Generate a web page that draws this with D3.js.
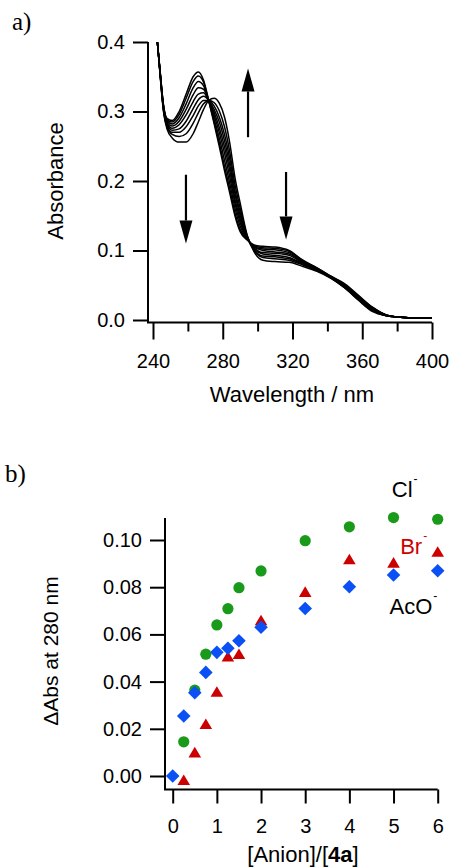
<!DOCTYPE html>
<html>
<head>
<meta charset="utf-8">
<script src="https://cdn.jsdelivr.net/npm/d3@7/dist/d3.min.js"></script>
<style>
	body { margin: 0; background: #fff; }
	svg { display: block; font-family: "Liberation Sans", Arial, sans-serif; }
</style>
</head>
<body>
<div id="svg-container"></div>
<script>

// DATA: panel a) UV-vis titration spectra
const wavelengths = [242.5, 244, 246, 248, 251, 255, 259, 263, 266, 269, 272, 275, 278, 281, 284, 287,
	290, 294, 298, 303, 310, 318, 326, 334, 342, 350, 358, 366, 374, 382, 390, 400];

const spectra = [
	[0.400, 0.360, 0.310, 0.290, 0.287, 0.300, 0.325, 0.350, 0.357, 0.345, 0.315, 0.283, 0.250, 0.215, 0.183, 0.150, 0.127, 0.115, 0.108, 0.106, 0.105, 0.100, 0.086, 0.075, 0.063, 0.052, 0.035, 0.018, 0.007, 0.004, 0.003, 0.003],
	[0.400, 0.360, 0.309, 0.289, 0.285, 0.296, 0.319, 0.343, 0.351, 0.342, 0.315, 0.286, 0.255, 0.221, 0.189, 0.154, 0.130, 0.116, 0.107, 0.104, 0.103, 0.099, 0.085, 0.075, 0.063, 0.051, 0.034, 0.018, 0.007, 0.004, 0.003, 0.003],
	[0.400, 0.359, 0.308, 0.287, 0.282, 0.291, 0.311, 0.334, 0.343, 0.337, 0.315, 0.290, 0.262, 0.230, 0.197, 0.161, 0.135, 0.116, 0.106, 0.102, 0.101, 0.097, 0.084, 0.074, 0.062, 0.050, 0.033, 0.017, 0.007, 0.004, 0.003, 0.003],
	[0.400, 0.358, 0.307, 0.285, 0.279, 0.286, 0.303, 0.324, 0.334, 0.332, 0.315, 0.295, 0.270, 0.240, 0.206, 0.168, 0.140, 0.117, 0.105, 0.100, 0.098, 0.095, 0.083, 0.073, 0.062, 0.050, 0.033, 0.016, 0.007, 0.004, 0.003, 0.003],
	[0.400, 0.358, 0.306, 0.283, 0.276, 0.281, 0.295, 0.314, 0.325, 0.327, 0.315, 0.299, 0.277, 0.249, 0.215, 0.174, 0.145, 0.118, 0.104, 0.097, 0.096, 0.093, 0.082, 0.073, 0.062, 0.049, 0.032, 0.016, 0.007, 0.004, 0.003, 0.003],
	[0.400, 0.357, 0.304, 0.282, 0.273, 0.275, 0.286, 0.304, 0.317, 0.322, 0.316, 0.303, 0.285, 0.258, 0.223, 0.181, 0.150, 0.119, 0.102, 0.095, 0.093, 0.090, 0.081, 0.072, 0.061, 0.048, 0.031, 0.015, 0.006, 0.004, 0.003, 0.003],
	[0.400, 0.357, 0.303, 0.280, 0.270, 0.270, 0.278, 0.294, 0.308, 0.316, 0.316, 0.308, 0.292, 0.267, 0.232, 0.187, 0.155, 0.120, 0.101, 0.092, 0.091, 0.088, 0.080, 0.072, 0.061, 0.047, 0.030, 0.014, 0.006, 0.004, 0.003, 0.003],
	[0.400, 0.356, 0.302, 0.278, 0.267, 0.264, 0.268, 0.283, 0.298, 0.311, 0.316, 0.313, 0.301, 0.278, 0.242, 0.195, 0.161, 0.121, 0.100, 0.090, 0.088, 0.086, 0.079, 0.071, 0.061, 0.046, 0.029, 0.013, 0.006, 0.004, 0.003, 0.003],
	[0.400, 0.355, 0.300, 0.275, 0.262, 0.256, 0.256, 0.268, 0.285, 0.303, 0.316, 0.319, 0.312, 0.292, 0.255, 0.205, 0.168, 0.122, 0.098, 0.086, 0.084, 0.083, 0.077, 0.070, 0.060, 0.046, 0.028, 0.012, 0.006, 0.004, 0.003, 0.003]
];

// arrows: wavelength, absorbance at tail, absorbance at tip
const arrowWl = [294.5, 258.9, 316.3];
const arrowFrom = [0.263, 0.209, 0.213];
const arrowTo = [0.362, 0.110, 0.116];

const ticksA_x = [240, 280, 320, 360, 400];
const minorA_x = [260, 300, 340, 380];
const ticksA_y = [0, 0.1, 0.2, 0.3, 0.4];

// DATA: panel b) titration curves
const ratioCl = [0.25, 0.5, 0.75, 1, 1.25, 1.5, 2, 3, 4, 5, 6];
const dAbsCl = [0.0145, 0.0364, 0.0516, 0.064, 0.0709, 0.0798, 0.0869, 0.0997, 0.1056, 0.1095, 0.1088];
const ratioBr = [0.25, 0.5, 0.75, 1, 1.25, 1.5, 2, 3, 4, 5, 6];
const dAbsBr = [-0.0017, 0.0100, 0.0220, 0.0357, 0.0506, 0.0517, 0.0660, 0.0780, 0.0918, 0.0904, 0.0950];
const ratioAcO = [0, 0.25, 0.5, 0.75, 1, 1.25, 1.5, 2, 3, 4, 5, 6];
const dAbsAcO = [0, 0.0254, 0.0353, 0.0439, 0.0524, 0.0541, 0.0573, 0.0630, 0.0710, 0.0802, 0.0852, 0.0870];

const ticksB_x = [0, 1, 2, 3, 4, 5, 6];
const ticksB_y = [0, 0.02, 0.04, 0.06, 0.08, 0.10];

// series labels: text, x (ratio), y (dAbs)
const seriesLabels = [
	{ name: "Cl", x: 4.96, y: 0.1182, color: "#000" },
	{ name: "Br", x: 5.15, y: 0.0940, color: "#cc0000" },
	{ name: "AcO", x: 4.91, y: 0.0686, color: "#000" }
];


function drawChart() {
	const w = 452, h = 868;
	const svg = d3.select('#svg-container').append('svg')
		.attr("width", w)
		.attr("height", h);

	const tickFont = 20;
	const titleFont = 22;

	// ---------- panel a ----------
	const xA = d3.scaleLinear().domain([240, 400]).range([153, 432]);
	const yA = d3.scaleLinear().domain([0, 0.4]).range([320, 42]);
	const axA_x = 148, axA_y = 322.5;

	svg.append("text")
		.attr("x", 12).attr("y", 30)
		.attr("font-family", "'Liberation Serif', 'Times New Roman', serif")
		.attr("font-size", 25)
		.text("a)");

	// spectra
	const line = d3.line()
		.x((d, i) => xA(wavelengths[i]))
		.y(d => yA(d))
		.curve(d3.curveMonotoneX);
	svg.append("g")
		.selectAll("path")
		.data(spectra)
		.enter()
		.append("path")
		.attr("d", line)
		.attr("fill", "none")
		.attr("stroke", "#000")
		.attr("stroke-width", 1.5);

	// arrows
	arrowWl.forEach((wl, i) => {
		const x = xA(wl);
		const y0 = yA(arrowFrom[i]);
		const y1 = yA(arrowTo[i]);
		const dir = y1 < y0 ? -1 : 1;
		const headLen = 23, headW = 6.5;
		svg.append("line")
			.attr("x1", x).attr("x2", x)
			.attr("y1", y0).attr("y2", y1 - dir * headLen)
			.attr("stroke", "#000")
			.attr("stroke-width", 2.2);
		svg.append("path")
			.attr("d", `M${x},${y1} L${x - headW},${y1 - dir * headLen} L${x + headW},${y1 - dir * headLen} Z`)
			.attr("fill", "#000");
	});

	// axes
	const yAxisA = d3.axisLeft(yA).tickValues(ticksA_y).tickSize(15).tickPadding(8)
		.tickFormat(d3.format(".1f"));
	svg.append("g")
		.attr("transform", `translate(${axA_x},0)`)
		.call(yAxisA)
		.call(g => g.select(".domain").remove());
	const xAxisA = d3.axisBottom(xA).tickValues(ticksA_x).tickSize(17).tickPadding(14)
		.tickFormat(d3.format("d"));
	svg.append("g")
		.attr("transform", `translate(0,${axA_y})`)
		.call(xAxisA)
		.call(g => g.select(".domain").remove());
	const xMinorA = d3.axisBottom(xA).tickValues(minorA_x).tickSize(9).tickFormat("");
	svg.append("g")
		.attr("transform", `translate(0,${axA_y})`)
		.call(xMinorA)
		.call(g => g.select(".domain").remove());
	svg.append("path")
		.attr("d", `M${axA_x},${yA(0.4)} L${axA_x},${axA_y} L${xA(400)},${axA_y}`)
		.attr("fill", "none").attr("stroke", "#000").attr("stroke-width", 2);

	svg.append("text")
		.attr("transform", `translate(63,${(yA(0) + yA(0.4)) / 2}) rotate(-90)`)
		.attr("text-anchor", "middle")
		.attr("font-size", titleFont)
		.text("Absorbance");
	svg.append("text")
		.attr("x", 292).attr("y", 402)
		.attr("text-anchor", "middle")
		.attr("font-size", titleFont)
		.text("Wavelength / nm");

	// ---------- panel b ----------
	const xB = d3.scaleLinear().domain([0, 6]).range([172.7, 437.7]);
	const yB = d3.scaleLinear().domain([0, 0.1]).range([776, 540]);
	const axB_x = 165, axB_y = 789.5;

	svg.append("text")
		.attr("x", 5).attr("y", 482)
		.attr("font-family", "'Liberation Serif', 'Times New Roman', serif")
		.attr("font-size", 25)
		.text("b)");

	// markers: green circles, red triangles, blue diamonds on top
	svg.append("g")
		.selectAll("circle")
		.data(ratioCl)
		.enter()
		.append("circle")
		.attr("cx", d => xB(d))
		.attr("cy", (d, i) => yB(dAbsCl[i]))
		.attr("r", 5.6)
		.attr("fill", "#1a9a1a");
	svg.append("g")
		.selectAll("path")
		.data(ratioBr)
		.enter()
		.append("path")
		.attr("transform", (d, i) => `translate(${xB(d)},${yB(dAbsBr[i])})`)
		.attr("d", "M0,-5.6 L6.3,5 L-6.3,5 Z")
		.attr("fill", "#cc0000");
	svg.append("g")
		.selectAll("path")
		.data(ratioAcO)
		.enter()
		.append("path")
		.attr("transform", (d, i) => `translate(${xB(d)},${yB(dAbsAcO[i])})`)
		.attr("d", "M0,-6.8 L6.8,0 L0,6.8 L-6.8,0 Z")
		.attr("fill", "#0a50f5");

	// axes
	const yAxisB = d3.axisLeft(yB).tickValues(ticksB_y).tickSize(15).tickPadding(8)
		.tickFormat(d3.format(".2f"));
	svg.append("g")
		.attr("transform", `translate(${axB_x},0)`)
		.call(yAxisB)
		.call(g => g.select(".domain").remove());
	const xAxisB = d3.axisBottom(xB).tickValues(ticksB_x).tickSize(14).tickPadding(15)
		.tickFormat(d3.format("d"));
	svg.append("g")
		.attr("transform", `translate(0,${axB_y})`)
		.call(xAxisB)
		.call(g => g.select(".domain").remove());
	svg.append("path")
		.attr("d", `M${axB_x},518 L${axB_x},${axB_y} L${xB(6)},${axB_y}`)
		.attr("fill", "none").attr("stroke", "#000").attr("stroke-width", 2);

	svg.append("text")
		.attr("transform", `translate(58,651) rotate(-90)`)
		.attr("text-anchor", "middle")
		.attr("font-size", 21)
		.text("\u0394Abs at 280 nm");
	// the reference crops this title at the page edge; keep it just inside
	const xt = svg.append("text")
		.attr("x", 303).attr("y", 862)
		.attr("text-anchor", "middle")
		.attr("font-size", titleFont);
	xt.append("tspan").text("[Anion]/[");
	xt.append("tspan").attr("font-weight", "bold").text("4a");
	xt.append("tspan").text("]");

	// series labels
	seriesLabels.forEach(s => {
		const t = svg.append("text")
			.attr("x", xB(s.x)).attr("y", yB(s.y))
			.attr("font-size", titleFont)
			.attr("fill", s.color);
		t.append("tspan").text(s.name);
		t.append("tspan").attr("font-size", 12).attr("dy", -14).attr("dx", 1).text("-");
	});

	// style all axis ticks and labels
	svg.selectAll(".tick line").attr("stroke", "#000").attr("stroke-width", 2);
	svg.selectAll(".tick text").attr("font-size", tickFont).attr("fill", "#000")
		.attr("font-family", "'Liberation Sans', Arial, sans-serif");
}

document.addEventListener('DOMContentLoaded', () => {
	drawChart();
});
</script>
</body>
</html>
